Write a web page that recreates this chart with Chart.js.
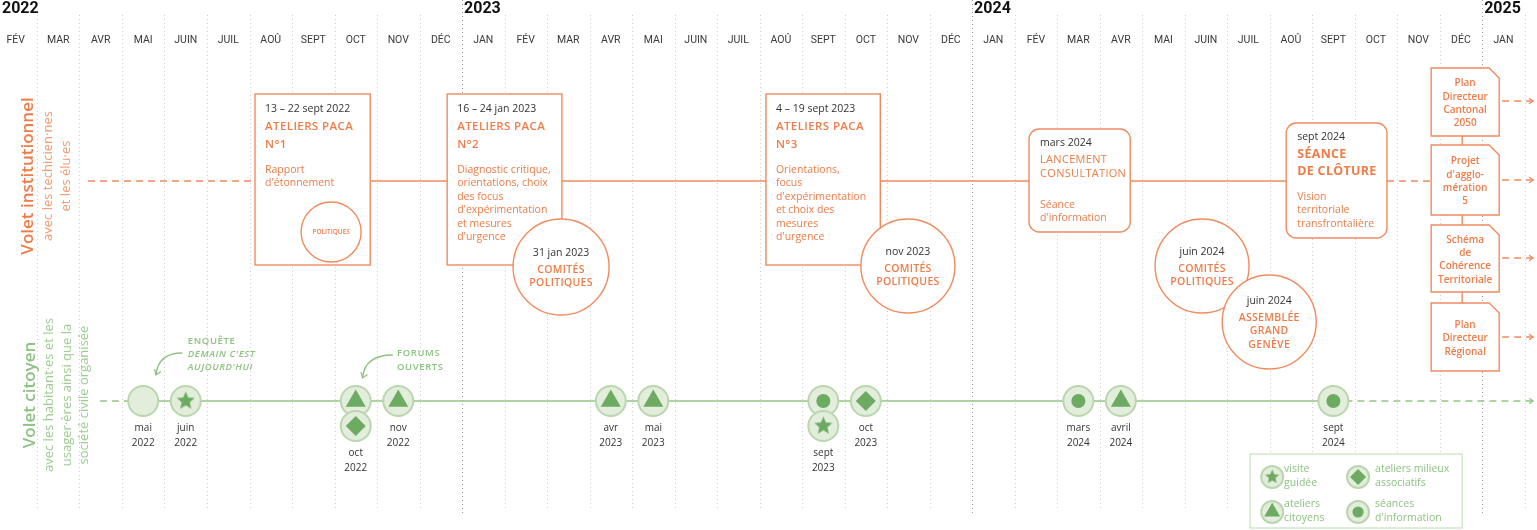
<!DOCTYPE html>
<html>
<head>
<meta charset="utf-8">
<script src="https://cdn.jsdelivr.net/npm/chart.js@4.4.1/dist/chart.umd.min.js"></script>
<style>
  html, body { margin: 0; padding: 0; background: #fff; overflow: hidden; }
  #wrap { position: relative; width: 1537px; height: 530px; }
  canvas { display: block; }
</style>
</head>
<body>
<div id="wrap"><canvas id="timeline"></canvas></div>
<script>
// x values are months counted from the start of january 2022 (0 = 1 jan 2022)
const monthLabels = ['JAN', 'FÉV', 'MAR', 'AVR', 'MAI', 'JUIN', 'JUIL', 'AOÛ', 'SEPT', 'OCT', 'NOV', 'DÉC'];
const years = ['2022', '2023', '2024', '2025'];

// volet citoyen
const citMonths = [4, 5, 9, 9, 10, 15, 16, 20, 20, 21, 26, 27, 32];
const citTypes  = ['none', 'visite', 'atelier', 'milieux', 'atelier', 'atelier', 'atelier', 'seance', 'visite', 'milieux', 'seance', 'atelier', 'seance'];
const citRows   = [0, 0, 0, 1, 0, 0, 0, 0, 1, 0, 0, 0, 0];
const citLabels = [['mai', '2022'], ['juin', '2022'], null, ['oct', '2022'], ['nov', '2022'], ['avr', '2023'], ['mai', '2023'],
                   null, ['sept', '2023'], ['oct', '2023'], ['mars', '2024'], ['avril', '2024'], ['sept', '2024']];

// volet institutionnel
const atelierDates  = ['13 – 22 sept 2022', '16 – 24 jan 2023', '4 – 19 sept 2023'];
const atelierTitles = [['ATELIERS PACA', 'N°1'], ['ATELIERS PACA', 'N°2'], ['ATELIERS PACA', 'N°3']];
const atelierTexts  = [
  ['Rapport', "d'étonnement"],
  ['Diagnostic critique,', 'orientations, choix', 'des focus', "d'expérimentation", 'et mesures', "d'urgence"],
  ['Orientations,', 'focus', "d'expérimentation", 'et choix des', 'mesures', "d'urgence"]
];
const seanceDates  = ['mars 2024', 'sept 2024'];
const seanceTitles = [['LANCEMENT', 'CONSULTATION'], ['SÉANCE', 'DE CLÔTURE']];
const seanceTexts  = [['Séance', "d'information"], ['Vision', 'territoriale', 'transfrontalière']];
const comiteDates  = ['31 jan 2023', 'nov 2023', 'juin 2024', 'juin 2024'];
const comiteTitles = [['COMITÉS', 'POLITIQUES'], ['COMITÉS', 'POLITIQUES'], ['COMITÉS', 'POLITIQUES'], ['ASSEMBLÉE', 'GRAND', 'GENÈVE']];
const docTitles = [
  ['Plan', 'Directeur', 'Cantonal', '2050'],
  ['Projet', "d'agglo-", 'mération', '5'],
  ['Schéma', 'de', 'Cohérence', 'Territoriale'],
  ['Plan', 'Directeur', 'Régional']
];
const legendLabels = [['visite', 'guidée'], ['ateliers milieux', 'associatifs'], ['ateliers', 'citoyens'], ['séances', "d'information"]];
const legendTypes = ['visite', 'milieux', 'atelier', 'seance'];

// layout (x in months, y in chart units = px)
const VIEW = { xMin: 1.13, xMax: 37.29 };
const INST_Y = 181, CIT_Y = 401, STACK_DY = 25;
const atelierBoxes = [[7.13, 9.84], [11.65, 14.35], [19.15, 21.84]];
const seanceBoxes = [[25.34, 27.72, 129, 232], [31.39, 33.76, 123, 238]];
const comiteCircles = [[14.33, 267, 48], [22.49, 266, 47], [29.41, 266, 47], [30.99, 322, 47]];
const docBox = [34.80, 36.40, 35.53];
const docTops = [68, 145, 225, 303], docBottoms = [136, 215, 292, 371], docArrows = [101, 180, 258, 337];

const ORANGE = '#ef7c48', ORANGE_LINE = '#f08b5f', DARK = '#333333';
const GREEN = '#8dc282', GREEN_LINE = '#93c587', GREEN_FILL = '#e2eddb', GREEN_RING = '#bad6ae', GREEN_MARK = '#6cab61';
const FONT = '"Open Sans", "Noto Sans", sans-serif';

function makeStar(r) {
  const s = Math.ceil(r * 2 + 2);
  const c = document.createElement('canvas');
  c.width = s; c.height = s;
  const g = c.getContext('2d');
  g.fillStyle = GREEN_MARK;
  g.beginPath();
  for (let i = 0; i < 10; i++) {
    const rr = i % 2 === 0 ? r : r * 0.45;
    const a = -Math.PI / 2 + i * Math.PI / 5;
    g.lineTo(s / 2 + rr * Math.cos(a), s / 2 + rr * Math.sin(a));
  }
  g.closePath();
  g.fill();
  return c;
}
const starBig = makeStar(9.5), starSmall = makeStar(7.5);
const symStyle = { none: 'circle', visite: starBig, atelier: 'triangle', milieux: 'rectRot', seance: 'circle' };
const symRadius = { none: 0, visite: 9, atelier: 11.5, milieux: 10, seance: 7 };

const citPoints = citMonths.map((m, i) => ({ x: m + 0.5, y: CIT_Y + citRows[i] * STACK_DY }));

function txt(ctx, s, x, y, font, color, align, spacing) {
  ctx.font = font;
  ctx.fillStyle = color;
  ctx.textAlign = align || 'left';
  ctx.textBaseline = 'middle';
  ctx.letterSpacing = (spacing || 0) + 'px';
  ctx.fillText(s, x, y);
  ctx.letterSpacing = '0px';
}

function roundRect(ctx, x, y, w, h, r) {
  ctx.beginPath();
  ctx.moveTo(x + r, y);
  ctx.arcTo(x + w, y, x + w, y + h, r);
  ctx.arcTo(x + w, y + h, x, y + h, r);
  ctx.arcTo(x, y + h, x, y, r);
  ctx.arcTo(x, y, x + w, y, r);
  ctx.closePath();
}

function arrowHead(ctx, x, y, ang, size, color) {
  ctx.save();
  ctx.strokeStyle = color;
  ctx.lineWidth = 1.3;
  ctx.setLineDash([]);
  ctx.beginPath();
  ctx.moveTo(x - size * Math.cos(ang - 0.6), y - size * Math.sin(ang - 0.6));
  ctx.lineTo(x, y);
  ctx.lineTo(x - size * Math.cos(ang + 0.6), y - size * Math.sin(ang + 0.6));
  ctx.stroke();
  ctx.restore();
}

const timelinePlugin = {
  id: 'timeline',
  beforeDatasetsDraw(chart) {
    const ctx = chart.ctx;
    const X = v => chart.scales.x.getPixelForValue(v);
    const Y = v => chart.scales.y.getPixelForValue(v);
    ctx.save();
    // grid
    ctx.lineWidth = 1;
    ctx.setLineDash([1, 3]);
    for (let m = 1; m <= 37; m++) {
      const x = Math.round(X(m)) + 0.5;
      const isYear = m % 12 === 0;
      ctx.strokeStyle = isYear ? '#9c9c9c' : '#cfcfcf';
      ctx.beginPath();
      ctx.moveTo(x, Y(isYear ? 0 : 15));
      ctx.lineTo(x, Y(isYear ? 515 : 510));
      ctx.stroke();
    }
    ctx.setLineDash([]);
    // header
    for (let m = 1; m <= 36; m++) {
      txt(ctx, monthLabels[m % 12], X(m + 0.5), Y(40), '10.5px Roboto, sans-serif', '#3a3a3a', 'center');
    }
    years.forEach((yr, i) => {
      txt(ctx, yr, Math.max(X(i * 12), 0) + 2, Y(9), 'bold 16px Roboto, sans-serif', '#111', 'left');
    });
    // side titles
    const side = (lines, xs, yc, color, subColor) => {
      lines.forEach((s, i) => {
        ctx.save();
        ctx.translate(X(xs[i]), Y(yc));
        ctx.rotate(-Math.PI / 2);
        txt(ctx, s, 0, 0, i === 0 ? '600 17px ' + FONT : '13px ' + FONT, i === 0 ? color : subColor, 'center');
        ctx.restore();
      });
    };
    side(['Volet institutionnel', 'avec les techicien·nes', 'et les élu·es'], [1.79, 2.26, 2.68], 176, ORANGE, '#f29a72');
    side(['Volet citoyen', 'avec les habitant·es et les', 'usager·ères ainsi que la', 'société civile organisée'], [1.84, 2.28, 2.71, 3.11], 395, GREEN, '#9ccc91');
    // annotations
    txt(ctx, 'ENQUÊTE', X(5.55), Y(341), '600 9.5px ' + FONT, GREEN, 'left', 0.6);
    txt(ctx, "DEMAIN C'EST", X(5.55), Y(354), 'italic 600 9.5px ' + FONT, GREEN, 'left', 0.6);
    txt(ctx, "AUJOURD'HUI", X(5.55), Y(367), 'italic 600 9.5px ' + FONT, GREEN, 'left', 0.6);
    txt(ctx, 'FORUMS', X(10.47), Y(353), '600 9.5px ' + FONT, GREEN, 'left', 0.6);
    txt(ctx, 'OUVERTS', X(10.47), Y(367), '600 9.5px ' + FONT, GREEN, 'left', 0.6);
    const curl = (x0, y0, x1, y1) => {
      ctx.strokeStyle = GREEN;
      ctx.lineWidth = 1.3;
      ctx.beginPath();
      ctx.moveTo(X(x0), Y(y0));
      ctx.quadraticCurveTo(X(x1) + 2, Y(y0), X(x1), Y(y1));
      ctx.stroke();
      arrowHead(ctx, X(x1), Y(y1), Math.PI / 2 + 0.35, 6, GREEN);
    };
    curl(5.42, 353, 4.8, 375);
    curl(10.37, 355, 9.66, 378);
    ctx.restore();
  },
  afterDatasetsDraw(chart) {
    const ctx = chart.ctx;
    const X = v => chart.scales.x.getPixelForValue(v);
    const Y = v => chart.scales.y.getPixelForValue(v);
    ctx.save();
    // marker labels
    citMonths.forEach((m, i) => {
      const lab = citLabels[i];
      if (!lab) return;
      const y0 = CIT_Y + citRows[i] * STACK_DY + 27;
      txt(ctx, lab[0], X(m + 0.5), Y(y0), '10px ' + FONT, DARK, 'center');
      txt(ctx, lab[1], X(m + 0.5), Y(y0 + 15), '10px ' + FONT, DARK, 'center');
    });
    ctx.lineWidth = 1.4;
    ctx.strokeStyle = ORANGE_LINE;
    // ateliers PACA boxes
    atelierBoxes.forEach(([l, r], i) => {
      const x = X(l), w = X(r) - X(l), top = Y(94), h = Y(265) - Y(94);
      ctx.fillStyle = '#fff';
      ctx.fillRect(x, top, w, h);
      ctx.strokeRect(x, top, w, h);
      txt(ctx, atelierDates[i], x + 10, Y(109), '10.5px ' + FONT, DARK);
      txt(ctx, atelierTitles[i][0], x + 10, Y(127), '600 11.5px ' + FONT, ORANGE, 'left', 0.4);
      txt(ctx, atelierTitles[i][1], x + 10, Y(145), '600 11.5px ' + FONT, ORANGE, 'left', 0.4);
      atelierTexts[i].forEach((s, k) => txt(ctx, s, x + 10, Y(170 + k * 13.5), '10.5px ' + FONT, ORANGE));
    });
    // small circle inside first box
    ctx.beginPath();
    ctx.arc(X(8.92), Y(232), 30, 0, Math.PI * 2);
    ctx.fillStyle = '#fff';
    ctx.fill();
    ctx.stroke();
    txt(ctx, 'POLITIQUES', X(8.92), Y(232), '600 6.5px ' + FONT, ORANGE, 'center');
    // séances (rounded)
    seanceBoxes.forEach(([l, r, t, b], i) => {
      const x = X(l), w = X(r) - X(l);
      roundRect(ctx, x, Y(t), w, Y(b) - Y(t), 10);
      ctx.fillStyle = '#fff';
      ctx.fill();
      ctx.stroke();
      const big = i === 1;
      txt(ctx, seanceDates[i], x + 11, Y(t + 14), '10.5px ' + FONT, DARK);
      seanceTitles[i].forEach((s, k) => txt(ctx, s, x + 11, Y(t + 31 + k * (big ? 17 : 14)),
        big ? '700 12.5px ' + FONT : '11px ' + FONT, ORANGE, 'left', 0.3));
      seanceTexts[i].forEach((s, k) => txt(ctx, s, x + 11, Y(t + (big ? 74 : 76) + k * 13.5), '10.5px ' + FONT, ORANGE));
    });
    // comités circles
    comiteCircles.forEach(([cx, cy, r], i) => {
      ctx.beginPath();
      ctx.arc(X(cx), Y(cy), r, 0, Math.PI * 2);
      ctx.fillStyle = '#fff';
      ctx.fill();
      ctx.stroke();
      const lines = comiteTitles[i];
      const y0 = cy - (lines.length === 3 ? 21 : 14);
      txt(ctx, comiteDates[i], X(cx), Y(y0), '10.5px ' + FONT, DARK, 'center');
      lines.forEach((s, k) => txt(ctx, s, X(cx), Y(y0 + 17 + k * 13.5), '600 10.5px ' + FONT, ORANGE, 'center', 0.3));
    });
    // document boxes
    const [dl, dr, dc] = docBox;
    ctx.beginPath();
    ctx.moveTo(X(dc), Y(docBottoms[0]));
    ctx.lineTo(X(dc), Y(docTops[3]));
    ctx.stroke();
    docTitles.forEach((lines, i) => {
      const x0 = X(dl), x1 = X(dr), t = Y(docTops[i]), b = Y(docBottoms[i]);
      ctx.beginPath();
      ctx.moveTo(x0, t);
      ctx.lineTo(x1 - 10, t);
      ctx.lineTo(x1, t + 10);
      ctx.lineTo(x1, b);
      ctx.lineTo(x0, b);
      ctx.closePath();
      ctx.fillStyle = '#fff';
      ctx.fill();
      ctx.stroke();
      const mid = (docTops[i] + docBottoms[i]) / 2 + 1.5;
      lines.forEach((s, k) => txt(ctx, s, (x0 + x1) / 2, Y(mid + (k - (lines.length - 1) / 2) * 13.3),
        '600 10px ' + FONT, ORANGE, 'center'));
      // dashed arrow
      ctx.save();
      ctx.setLineDash([7, 5]);
      ctx.beginPath();
      ctx.moveTo(x1 + 3, Y(docArrows[i]));
      ctx.lineTo(X(37.2), Y(docArrows[i]));
      ctx.stroke();
      ctx.restore();
      arrowHead(ctx, X(37.2), Y(docArrows[i]), 0, 5, ORANGE_LINE);
    });
    arrowHead(ctx, X(37.2), Y(CIT_Y), 0, 5, GREEN_LINE);
    // legend
    const lx0 = X(30.54), lx1 = X(35.53), ly0 = Y(454), ly1 = Y(528);
    ctx.strokeStyle = '#c9dfc1';
    ctx.lineWidth = 1.2;
    ctx.fillStyle = '#fff';
    ctx.fillRect(lx0, ly0, lx1 - lx0, ly1 - ly0);
    ctx.strokeRect(lx0, ly0, lx1 - lx0, ly1 - ly0);
    const cols = [[31.06, 31.34], [33.08, 33.48]], rows = [477, 512];
    legendTypes.forEach((t, i) => {
      const [cx, tx] = cols[i % 2], cy = rows[Math.floor(i / 2)];
      ctx.fillStyle = GREEN_FILL;
      ctx.strokeStyle = GREEN_RING;
      ctx.lineWidth = 2;
      Chart.helpers.drawPoint(ctx, { pointStyle: 'circle', radius: 11, borderWidth: 2, rotation: 0 }, X(cx), Y(cy));
      ctx.fillStyle = GREEN_MARK;
      const st = t === 'visite' ? starSmall : symStyle[t];
      Chart.helpers.drawPoint(ctx, { pointStyle: st, radius: symRadius[t] * 0.8, borderWidth: 0, rotation: 0 }, X(cx), Y(cy));
      legendLabels[i].forEach((s, k) => txt(ctx, s, X(tx), Y(cy - 8 + k * 14), '10.5px ' + FONT, GREEN));
    });
    ctx.restore();
  }
};

new Chart(document.getElementById('timeline'), {
  type: 'scatter',
  data: {
    datasets: [
      {
        // institutional line
        type: 'line',
        data: [{ x: 3.2, y: INST_Y }, { x: 7.13, y: INST_Y }, { x: 33.76, y: INST_Y }, { x: 34.8, y: INST_Y }],
        borderColor: ORANGE_LINE, borderWidth: 1.4, pointRadius: 0, tension: 0,
        segment: { borderDash: c => (c.p0DataIndex === 1 ? [] : [7, 5]) },
        order: 4
      },
      {
        // citizen line
        type: 'line',
        data: [{ x: 3.48, y: CIT_Y }, { x: 4.5, y: CIT_Y }, { x: 32.5, y: CIT_Y }, { x: 37.2, y: CIT_Y }],
        borderColor: GREEN_LINE, borderWidth: 1.6, pointRadius: 0, tension: 0,
        segment: { borderDash: c => (c.p0DataIndex === 1 ? [] : [7, 5]) },
        order: 3
      },
      {
        data: citPoints,
        pointStyle: 'circle', pointRadius: 15, pointHoverRadius: 15,
        backgroundColor: GREEN_FILL, borderColor: GREEN_RING, borderWidth: 2,
        order: 2
      },
      {
        data: citPoints,
        pointStyle: citTypes.map(t => symStyle[t]),
        pointRadius: citTypes.map(t => symRadius[t]),
        backgroundColor: GREEN_MARK, borderWidth: 0,
        order: 1
      }
    ]
  },
  options: {
    responsive: true,
    maintainAspectRatio: false,
    animation: false,
    events: [],
    layout: { padding: 0, autoPadding: false },
    plugins: { legend: { display: false }, tooltip: { enabled: false } },
    scales: {
      x: { type: 'linear', min: VIEW.xMin, max: VIEW.xMax, display: false },
      y: { type: 'linear', min: 0, max: 530, reverse: true, display: false }
    }
  },
  plugins: [timelinePlugin]
});
</script>
</body>
</html>
